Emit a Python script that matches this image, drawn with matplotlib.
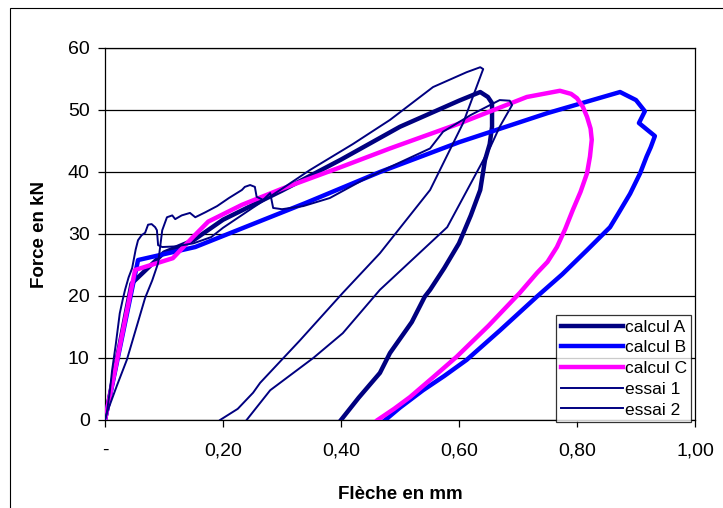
import numpy as np
import matplotlib.pyplot as plt
from matplotlib.patches import Rectangle

plt.rcParams['font.family'] = ['Liberation Sans', 'DejaVu Sans']

# calcul A (thick navy)
calcA_x = [0.0, 0.045, 0.10, 0.15, 0.20, 0.30, 0.40, 0.50, 0.60, 0.636, 0.649, 0.656,
           0.656, 0.652, 0.644, 0.636, 0.62, 0.60, 0.575, 0.551, 0.542, 0.52, 0.483,
           0.466, 0.43, 0.40]
calcA_y = [0.0, 22.0, 27.0, 29.0, 32.3, 37.0, 42.0, 47.3, 51.5, 52.9, 52.1, 51.1,
           47.3, 44.5, 41.9, 37.1, 33.0, 28.5, 24.5, 21.0, 19.9, 15.8, 10.8,
           7.6, 3.6, 0.0]

# calcul B (thick blue)
calcB_x = [0.0, 0.056, 0.153, 0.34, 0.466, 0.60, 0.75, 0.873, 0.90, 0.915, 0.905, 0.932,
           0.925, 0.918, 0.907, 0.89, 0.87, 0.856, 0.817, 0.775, 0.732, 0.67, 0.613,
           0.575, 0.539, 0.50, 0.475]
calcB_y = [0.0, 25.8, 27.9, 35.0, 40.0, 44.8, 49.5, 52.9, 51.6, 49.8, 47.9, 45.8,
           44.0, 42.5, 39.8, 36.5, 33.3, 31.1, 27.4, 23.5, 19.9, 14.5, 9.7,
           7.1, 4.8, 2.0, 0.0]

# calcul C (thick magenta)
calcC_x = [0.0, 0.051, 0.115, 0.147, 0.175, 0.232, 0.30, 0.40, 0.483, 0.60, 0.715, 0.771,
           0.79, 0.80, 0.81, 0.817, 0.823, 0.825, 0.822, 0.817, 0.806, 0.793, 0.78,
           0.766, 0.75, 0.732, 0.703, 0.65, 0.596, 0.555, 0.517, 0.49, 0.462]
calcC_y = [0.0, 24.2, 26.1, 29.3, 32.0, 34.7, 37.3, 40.8, 43.8, 47.8, 52.1, 53.1,
           52.6, 51.9, 50.5, 48.9, 47.0, 45.2, 42.5, 39.8, 36.8, 33.9, 30.8,
           27.9, 25.5, 23.7, 20.5, 15.2, 10.2, 6.8, 3.7, 1.8, 0.0]

# essai 1 (thin navy, peak 57)
ess1_x = [0.0, 0.003, 0.008, 0.012, 0.018, 0.025, 0.030, 0.034, 0.040, 0.046, 0.052, 0.056,
          0.062, 0.068, 0.073, 0.079, 0.085, 0.088, 0.090, 0.097, 0.12, 0.15, 0.18,
          0.20, 0.25, 0.30, 0.347, 0.42, 0.483, 0.556, 0.613, 0.636, 0.641, 0.639,
          0.607, 0.551, 0.466, 0.403, 0.33, 0.263, 0.251, 0.225, 0.195]
ess1_y = [0.0, 1.1, 4.5, 8.0, 12.0, 17.2, 19.4, 21.0, 23.0, 24.5, 27.5, 29.0,
          29.8, 30.2, 31.5, 31.6, 31.1, 30.6, 28.2, 27.9, 28.0, 28.5, 29.5,
          31.0, 34.2, 37.3, 40.3, 44.5, 48.4, 53.7, 56.1, 56.9, 56.6, 56.1,
          47.9, 37.1, 26.9, 20.5, 12.8, 6.0, 4.4, 1.8, 0.0]

# essai 2 (thin navy, peak 52)
ess2_x = [0.0, 0.003, 0.020, 0.037, 0.055, 0.068, 0.080, 0.090, 0.097, 0.105, 0.114, 0.119,
          0.130, 0.144, 0.153, 0.170, 0.190, 0.210, 0.232, 0.237, 0.246, 0.254, 0.257,
          0.268, 0.280, 0.285, 0.300, 0.336, 0.381, 0.437, 0.483, 0.551, 0.573, 0.620,
          0.669, 0.686, 0.690, 0.669, 0.653, 0.58, 0.466, 0.403, 0.353, 0.28, 0.24]
ess2_y = [0.0, 1.1, 5.5, 9.7, 15.5, 19.7, 22.5, 25.3, 30.6, 32.7, 33.0, 32.4,
          33.0, 33.4, 32.7, 33.5, 34.5, 35.8, 37.1, 37.6, 37.9, 37.6, 36.0,
          35.5, 36.6, 34.2, 34.0, 34.5, 35.8, 38.7, 40.8, 43.8, 46.5, 49.2,
          51.6, 51.5, 50.8, 47.3, 44.0, 31.1, 21.0, 14.0, 10.0, 4.8, 0.0]

fig = plt.figure(figsize=(7.23, 5.08), dpi=100)
fig.patches.append(Rectangle((10/723, -0.01), 1.0, 1 - 8/508 + 0.01, transform=fig.transFigure,
                             fill=False, edgecolor='black', linewidth=0.8))
ax = fig.add_axes([105/723, 88/508, 590/723, 372/508])

ax.plot(calcA_x, calcA_y, color='#000080', lw=3.2, label='calcul A', zorder=3)
ax.plot(calcB_x, calcB_y, color='#0000FF', lw=3.2, label='calcul B', zorder=3)
ax.plot(calcC_x, calcC_y, color='#FF00FF', lw=3.2, label='calcul C', zorder=3)
ax.plot(ess1_x, ess1_y, color='#000080', lw=1.4, label='essai 1', zorder=4)
ax.plot(ess2_x, ess2_y, color='#000080', lw=1.4, label='essai 2', zorder=4)

ax.set_xlim(0, 1.0)
ax.set_ylim(0, 60)
ax.set_xticks([0, 0.2, 0.4, 0.6, 0.8, 1.0])
ax.set_xticklabels(['-', '0,20', '0,40', '0,60', '0,80', '1,00'])
ax.set_yticks(range(0, 61, 10))
ax.yaxis.grid(True, color='black', lw=0.9)
ax.set_axisbelow(True)
ax.tick_params(direction='out', length=5, width=0.9, labelsize=14)
ax.tick_params(axis='x', pad=11)
ax.tick_params(axis='y', pad=6)
for s in ax.spines.values():
    s.set_linewidth(0.9)
ax.set_xlabel('Flèche en mm', fontsize=13.5, fontweight='bold', labelpad=19)
ax.set_ylabel('Force en kN', fontsize=13.5, fontweight='bold', labelpad=14)

leg = ax.legend(loc='lower right', fontsize=12.5, frameon=True, fancybox=False,
                edgecolor='black', borderpad=0.25, labelspacing=0.32, handlelength=3.6,
                handletextpad=0.1, borderaxespad=0.0, bbox_to_anchor=(0.994, -0.005))
leg.get_frame().set_linewidth(0.9)

fig.savefig('out.png', dpi=100)
